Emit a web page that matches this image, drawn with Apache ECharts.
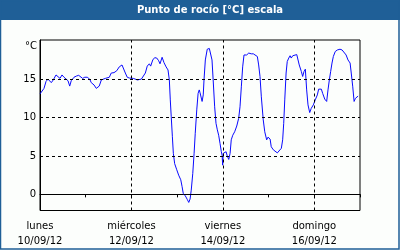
<!DOCTYPE html>
<html>
<head>
<meta charset="utf-8">
<script src="https://cdn.jsdelivr.net/npm/echarts@6/dist/echarts.min.js"></script>
<style>
html,body{margin:0;padding:0;background:#fcfefc;}
#c{width:400px;height:250px;}
</style>
</head>
<body>
<div id="c"></div>
<script>
// hours since lunes 10/09/12 00:00
var hours = [0,1.05,2.1,3.15,4.2,5.25,5.93,6.98,8.4,9.45,10.5,11.55,12.6,13.65,14.7,15.6,16.4,17.85,19.06,20.3,21.35,22.4,23.5,24.8,26.1,26.9,28.35,29.55,30.1,31.1,32.2,33.2,34.3,35.3,36.4,37.4,38.85,40.3,41.6,43.05,43.7,44.8,45.8,46.9,47.9,49.0,50.0,51.1,52.1,53.2,54.2,55.3,56.3,57.4,58.1,59.2,60.2,61.3,62.3,63.0,64.1,65.1,66.2,67.2,67.9,68.4,68.9,69.5,70.0,70.7,71.8,72.8,73.9,74.6,75.2,76.3,77.3,78.1,78.8,79.4,80.2,80.9,81.5,82.3,83.0,83.6,84.0,85.1,85.7,86.1,86.8,87.8,88.9,89.6,90.3,91.0,91.7,92.4,93.1,93.8,94.5,95.2,95.6,95.9,96.2,96.97,97.7,98.3,99.1,99.8,100.4,101.2,102.2,103.3,104.3,105.0,105.7,106.4,107.1,108.5,109.6,110.3,110.9,112.0,113.0,114.1,114.8,115.5,116.2,117.2,118.0,119.0,119.7,120.8,121.4,122.5,123.5,124.6,125.6,126.7,127.4,127.95,128.5,129.2,129.8,130.6,131.3,131.9,132.7,133.7,134.8,135.5,136.1,137.2,137.9,138.6,139.3,140.0,140.7,141.6,142.4,143.5,144.5,145.6,146.3,147.7,148.4,149.5,150.5,151.2,151.9,152.6,153.3,154.0,155.0,156.1,157.5,158.6,159.6,160.7,161.7,162.8,163.4,164.2,164.9,165.6,166.3,167.0];
var dewPoint = [13.08,13.2,13.8,14.7,15.0,15.1,14.55,14.9,15.55,15.4,15.1,15.55,15.25,15.1,14.8,14.1,14.8,15.25,15.4,15.5,15.5,15.1,15.25,15.25,15.0,14.55,14.25,13.8,13.6,14.1,14.9,15.0,15.1,15.25,15.25,15.8,15.85,16.1,16.6,16.85,16.6,15.8,15.25,15.15,15.4,15.1,15.0,14.9,15.15,15.0,15.15,15.8,16.7,17.0,16.7,17.5,17.8,17.75,17.4,17.0,17.85,17.15,16.6,16.2,14.9,12.3,10.1,7.5,5.35,4.0,3.2,2.5,1.9,1.0,0.13,-0.2,-0.65,-1.05,-0.6,0.55,2.7,5.35,7.95,11.0,13.15,13.6,13.25,12.1,12.95,14.9,17.5,18.9,19.0,18.8,17.5,14.5,11.4,9.25,8.4,7.7,6.65,5.55,5.1,3.8,5.35,5.1,5.55,5.0,4.55,5.35,7.1,7.7,8.15,8.9,9.9,11.4,14.0,16.6,18.15,18.15,18.4,18.6,18.3,18.3,18.1,17.95,16.85,15.35,12.7,9.7,8.15,7.1,7.45,7.2,6.2,5.8,5.55,5.4,5.55,6.0,7.1,9.25,12.3,15.8,17.3,17.75,18.05,17.75,18.05,18.1,18.2,17.95,16.85,16.0,15.35,16.0,16.3,13.6,11.65,10.65,11.2,11.65,12.3,12.95,13.7,13.7,13.15,12.4,12.1,13.6,14.9,16.0,17.1,17.95,18.6,18.8,18.9,18.8,18.6,18.15,17.5,17.1,15.8,14.0,12.1,12.5,12.65,12.8];
var dayNames = ['lunes','martes','miércoles','jueves','viernes','sábado','domingo'];
var dayDates = ['10/09/12','11/09/12','12/09/12','13/09/12','14/09/12','15/09/12','16/09/12'];
var yTicks = [0,5,10,15];
var xGridHours = [48,96,144];
var titleText = 'Punto de rocío [°C] escala';
var unitText = '°C';

var seriesData = hours.map(function(h,i){return [h, dewPoint[i]];});
var markData = yTicks.map(function(v){return {yAxis:v};}).concat(xGridHours.map(function(v){return {xAxis:v};}));

var chart = echarts.init(document.getElementById('c'), null, {renderer:'canvas'});
chart.setOption({
  animation:false,
  backgroundColor:'#fcfefc',
  textStyle:{fontFamily:'DejaVu Sans'},
  graphic:[
    {type:'rect', shape:{x:0,y:0,width:400,height:20}, style:{fill:'#1f5f97'}, z:10},
    {type:'rect', shape:{x:0.5,y:0.5,width:398.5,height:248.5}, style:{fill:null,stroke:'#1f5f97',lineWidth:1.5}, z:10},
    {type:'text', x:210, y:10, style:{text:titleText, fill:'#ffffff', font:'bold 10px "DejaVu Sans"', textAlign:'center', textVerticalAlign:'middle'}, z:11},
    {type:'text', x:25, y:46, style:{text:unitText, fill:'#000000', font:'10px "DejaVu Sans"', textAlign:'left', textVerticalAlign:'middle'}, z:11}
  ],
  grid:{left:40,right:40,top:40,bottom:39.5,show:true,borderColor:'#000',borderWidth:1,backgroundColor:'#fcfefc'},
  xAxis:{
    type:'value', min:0, max:168, interval:24,
    axisLine:{show:true,lineStyle:{color:'#000',width:1}},
    axisTick:{show:true,length:3,inside:false,lineStyle:{color:'#000'}},
    splitLine:{show:false},
    axisLabel:{
      show:true, margin:8, color:'#000', fontSize:10, fontFamily:'DejaVu Sans', lineHeight:15,
      showMinLabel:true, showMaxLabel:true, hideOverlap:false,
      formatter:function(v){
        var d = Math.round(v/24);
        if (d % 2 !== 0 || d >= dayNames.length) return '';
        return dayNames[d] + '\n' + dayDates[d];
      }
    }
  },
  yAxis:{
    type:'value', min:-2.1, max:20.1,
    axisLine:{show:true,lineStyle:{color:'#000',width:1}},
    axisTick:{show:false},
    splitLine:{show:false},
    axisLabel:{show:true, customValues:yTicks, margin:4, color:'#000', fontSize:10, fontFamily:'DejaVu Sans'}
  },
  series:[{
    type:'line',
    data:seriesData,
    showSymbol:false,
    symbol:'none',
    lineStyle:{color:'#0a0aff',width:1},
    z:3,
    markLine:{
      silent:true, symbol:'none', animation:false,
      label:{show:false},
      lineStyle:{type:[3,3],color:'#000',width:1},
      emphasis:{disabled:true},
      data:markData
    }
  }]
});
</script>
</body>
</html>
